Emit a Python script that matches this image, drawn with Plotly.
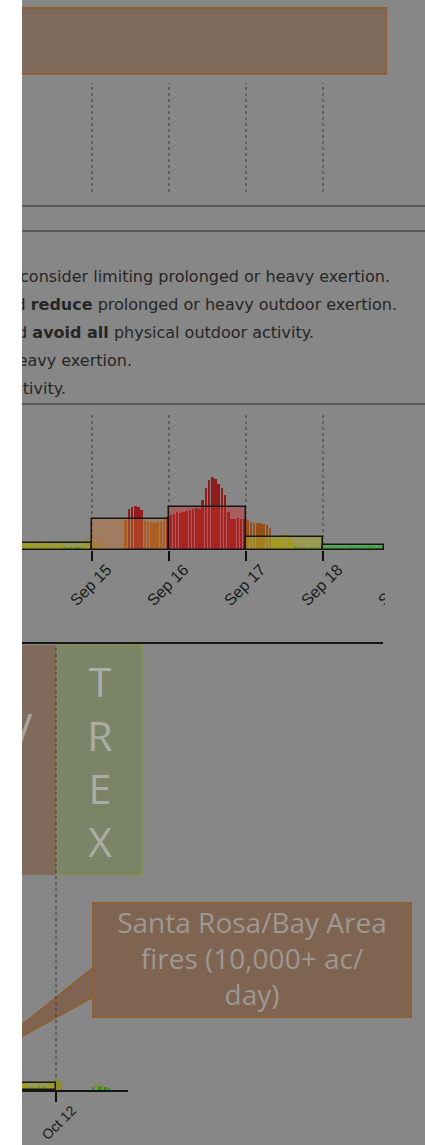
import plotly.graph_objects as go
from datetime import datetime, timedelta

# ---------------- data ----------------
# hourly air-quality index values (relative units)
sep_start = datetime(2017, 9, 14)
sep14_hourly = [7, 6, 7, 8, 7, 6, 7, 8, 7, 7, 6, 7, 8, 7, 6, 4, 3, 4, 3, 4, 3, 8, 12, 15]
sep15_hourly = [8, 9, 7, None, None, None, None, None, None, None, 30, 41, 43, 44, 43, 40,
                29, 28, 28, 27, 28, 28, 29, 33]
sep16_hourly = [35, 36, 38, 37, 38, 39, 40, 41, 42, 41, 50, 62, 70, 73, 71, 66, 62, 55,
                38, 31, 31, 32, 31, 31]
sep17_hourly = [30, 28, 27, 27, 27, 26, 25, 22, 12, 10, 13, 16, 17, 14, 8, 4, 3, 4, 3, 2, 3, 4, 3, 3]
sep18_hourly = [3, 3, 4, 3, 3, 2, 3, 3, 4, 3, 3, 4, 4, 3, 4, 4, 3, 4, 3]
sep_days = ["2017-09-14", "2017-09-15", "2017-09-16", "2017-09-17", "2017-09-18"]
sep_daily = [7, 31, 43, 13, 5]
sep_daily_cat = ["Moderate", "USG", "Unhealthy", "Moderate", "Good"]
sep_ticks = ["2017-09-14", "2017-09-15", "2017-09-16", "2017-09-17", "2017-09-18", "2017-09-19"]
sep_ticktext = ["Sep 14", "Sep 15", "Sep 16", "Sep 17", "Sep 18", "Sep 19"]

oct_start = datetime(2017, 10, 11)
oct11_hourly = [6, 7, 6, 6, 7, 6, 6, 7, 6, 6, 7, 6, 6, 6, 7, 3, 4, 3, 4, 3, 4, 7, 9, 11]
oct12_hourly = [10, 8, None, None, None, None, None, None, None, None, None, 3, 6, 4, 5, 3, 2]
oct_days = ["2017-10-11"]
oct_daily = [7]
oct_daily_cat = ["Moderate"]
oct_ticks = ["2017-10-11", "2017-10-12", "2017-10-13"]
oct_ticktext = ["Oct 11", "Oct 12", "Oct 13"]

guidance_lines = [
    "consider limiting prolonged or heavy exertion.",
    "d <b>reduce</b> prolonged or heavy outdoor exertion.",
    "d <b>avoid all</b> physical outdoor activity.",
    "eavy exertion.",
    "tivity.",
]
campaign_letters = ["T", "R", "E", "X"]
left_letter = "V"
callout_text = "Santa Rosa/Bay Area<br>fires (10,000+ ac/<br>day)"

# category thresholds for hourly colouring (same relative units as above)
hourly_thresholds = [(30.5, "Unhealthy"), (20, "USG"), (5, "Moderate"), (-1, "Good")]

# ---------------- styling ----------------
W, H = 425, 1145
BG = "#878787"
BAR_COL = {"Good": "#2f8c2f", "Moderate": "#8e8c1e", "USG": "#935018", "Unhealthy": "#911b1b"}
BOX_COL = {"Good": "rgba(60,185,60,0.55)", "Moderate": "rgba(175,172,35,0.5)",
           "USG": "rgba(195,110,50,0.45)", "Unhealthy": "rgba(205,45,45,0.45)"}
PX_PER_DAY = 77.0


def cat_of(v):
    for thr, name in hourly_thresholds:
        if v >= thr:
            return name
    return "Good"


def px(p):
    return p / W


def py(p):
    return 1 - p / H


def t_at(px_pos, ref_px, ref_day):
    return ref_day + timedelta(days=(px_pos - ref_px) / PX_PER_DAY)


def fmt(t):
    return t.strftime("%Y-%m-%d %H:%M:%S")


def hourly_trace(start, values, xa, ya):
    xs, ys, cs = [], [], []
    for i, v in enumerate(values):
        xs.append(start + timedelta(hours=i, minutes=30))
        ys.append(v)
        cs.append(BAR_COL[cat_of(v)] if v is not None else BAR_COL["Good"])
    return go.Bar(x=xs, y=ys, width=[0.8 * 3600e3] * len(xs), marker=dict(color=cs, line=dict(width=0)),
                  xaxis=xa, yaxis=ya, showlegend=False, hoverinfo="skip")


def daily_trace(days, values, cats, data_end, xa, ya):
    xs, ws = [], []
    for d in days:
        s = datetime.fromisoformat(d)
        e = min(s + timedelta(days=1), data_end)
        xs.append(s + (e - s) / 2)
        ws.append((e - s).total_seconds() * 1000)
    cols = [BOX_COL[c] for c in cats]
    return go.Bar(x=xs, y=values, width=ws,
                  marker=dict(color=cols, line=dict(color="#151515", width=1.5)),
                  xaxis=xa, yaxis=ya, showlegend=False, hoverinfo="skip")


fig = go.Figure()

sep_hourly = sep14_hourly + sep15_hourly + sep16_hourly + sep17_hourly + sep18_hourly
sep_end = sep_start + timedelta(hours=len(sep_hourly))
fig.add_trace(hourly_trace(sep_start, sep_hourly, "x", "y"))
fig.add_trace(daily_trace(sep_days, sep_daily, sep_daily_cat, sep_end, "x", "y"))

oct_hourly = oct11_hourly + oct12_hourly
oct_end = oct_start + timedelta(hours=len(oct_hourly))
fig.add_trace(hourly_trace(oct_start, oct_hourly, "x2", "y2"))
fig.add_trace(daily_trace(oct_days, oct_daily, oct_daily_cat, oct_end, "x2", "y2"))

# ---- slide texts (pixel overlay axis) ----
guid_right = [390, 397, 314, 132, 66]
guid_y = [278, 306, 334, 362, 390]
for txt, xr, yc in zip(guidance_lines, guid_right, guid_y):
    fig.add_trace(go.Scatter(x=[xr], y=[yc], mode="text", text=[txt], textposition="middle left",
                             textfont=dict(family="DejaVu Sans", size=16, color="#262626"),
                             xaxis="x3", yaxis="y3", showlegend=False, hoverinfo="skip"))

fig.add_trace(go.Scatter(x=[100], y=[767], mode="text", text=["<br>".join(campaign_letters)],
                         textposition="middle center",
                         textfont=dict(family="Open Sans", size=41, color="#aaada5"),
                         xaxis="x3", yaxis="y3", showlegend=False, hoverinfo="skip"))
fig.add_trace(go.Scatter(x=[20], y=[733], mode="text", text=[left_letter], textposition="middle center",
                         textfont=dict(family="Open Sans", size=41, color="#a9a39e"),
                         xaxis="x3", yaxis="y3", showlegend=False, hoverinfo="skip"))
fig.add_trace(go.Scatter(x=[252], y=[962], mode="text", text=[callout_text], textposition="middle center",
                         textfont=dict(family="Open Sans", size=28, color="#9e9893"),
                         xaxis="x3", yaxis="y3", showlegend=False, hoverinfo="skip"))

# ---------------- shapes ----------------
shapes = []
# top orange text box
shapes.append(dict(type="rect", xref="paper", yref="paper", x0=px(-10), x1=px(386), y0=py(74), y1=py(8),
                   fillcolor="#7f6b5c", line=dict(color="#8c5e36", width=2), layer="below"))
# separator lines
for yy in [206, 231, 404]:
    shapes.append(dict(type="line", xref="paper", yref="paper", x0=0, x1=1, y0=py(yy), y1=py(yy),
                       line=dict(color="#5a5a5a", width=2), layer="below"))
# dotted day lines (upper panel and chart)
for d in sep_ticks[1:5]:
    shapes.append(dict(type="line", xref="x", yref="paper", x0=d, x1=d, y0=py(192), y1=py(83),
                       line=dict(color="#4a4a4a", width=1.2, dash="dot"), layer="below"))
    shapes.append(dict(type="line", xref="x", yref="paper", x0=d, x1=d, y0=py(550), y1=py(415),
                       line=dict(color="#4a4a4a", width=1.2, dash="dot"), layer="below"))
# black line above lower section
shapes.append(dict(type="line", xref="paper", yref="paper", x0=0, x1=px(383), y0=py(643), y1=py(643),
                   line=dict(color="#161616", width=2), layer="below"))
# campaign boxes
shapes.append(dict(type="rect", xref="paper", yref="paper", x0=px(-10), x1=px(57), y0=py(875), y1=py(645),
                   fillcolor="#806a5b", line=dict(width=0), layer="below"))
shapes.append(dict(type="rect", xref="paper", yref="paper", x0=px(57), x1=px(142), y0=py(875), y1=py(645),
                   fillcolor="#7b8466", line=dict(color="#84904f", width=1.5), layer="below"))
# callout wedge + box
wedge = "M {},{} L {},{} L {},{} Z".format(px(93), py(968), px(-23), py(1061), px(93), py(997))
shapes.append(dict(type="path", xref="paper", yref="paper", path=wedge, fillcolor="#7f6452",
                   line=dict(color="#8f5f35", width=2), layer="below"))
shapes.append(dict(type="rect", xref="paper", yref="paper", x0=px(93), x1=px(411), y0=py(1017), y1=py(903),
                   fillcolor="#7f6452", line=dict(color="#8f5f35", width=2), layer="below"))
# dotted Oct 12 line
shapes.append(dict(type="line", xref="x2", yref="paper", x0="2017-10-12", x1="2017-10-12",
                   y0=py(1083), y1=py(645), line=dict(color="#454545", width=1.2, dash="dot"), layer="below"))
# crop of the embedded chart on the right
shapes.append(dict(type="rect", xref="paper", yref="paper", x0=px(385), x1=1, y0=py(626), y1=py(549),
                   fillcolor=BG, line=dict(width=0), layer="above"))
# white strip on the left
shapes.append(dict(type="rect", xref="paper", yref="paper", x0=0, x1=px(22), y0=0, y1=1,
                   fillcolor="#ffffff", line=dict(width=0), layer="above"))

sep15 = datetime(2017, 9, 15)
oct12 = datetime(2017, 10, 12)

fig.update_layout(
    width=W, height=H, autosize=False,
    margin=dict(l=0, r=0, t=0, b=0, pad=0, autoexpand=False),
    paper_bgcolor=BG, plot_bgcolor="rgba(0,0,0,0)",
    barmode="overlay", bargap=0, showlegend=False,
    shapes=shapes,
    xaxis=dict(type="date", domain=[0, 1], anchor="y", automargin=False,
               range=[fmt(t_at(0, 92, sep15)), fmt(t_at(W, 92, sep15))],
               tickmode="array", tickvals=sep_ticks, ticktext=sep_ticktext, tickangle=-45,
               ticks="outside", ticklen=10, tickwidth=2, tickcolor="#111111",
               tickfont=dict(family="Liberation Sans", size=16, color="#1a1a1a"),
               ticklabelshift=15, ticklabelstandoff=-7,
               showgrid=False, zeroline=False, showline=False),
    yaxis=dict(domain=[py(550), py(410)], range=[0, 140], visible=False, anchor="x", automargin=False),
    xaxis2=dict(type="date", domain=[0, px(128)], anchor="y2", automargin=False,
                range=[fmt(t_at(0, 56, oct12)), fmt(t_at(128, 56, oct12))],
                tickmode="array", tickvals=oct_ticks, ticktext=oct_ticktext, tickangle=-45,
                ticks="outside", ticklen=10, tickwidth=2, tickcolor="#111111",
                tickfont=dict(family="Liberation Sans", size=14, color="#1a1a1a"),
                ticklabelshift=16, ticklabelstandoff=-5,
                showgrid=False, zeroline=False, showline=True, linecolor="#151515", linewidth=1.5),
    yaxis2=dict(domain=[py(1090), py(950)], range=[0, 140], visible=False, anchor="x2", automargin=False),
    xaxis3=dict(domain=[0, 1], range=[0, W], visible=False, anchor="y3", automargin=False),
    yaxis3=dict(domain=[0, 1], range=[H, 0], visible=False, anchor="x3", automargin=False),
)

fig.write_html("out.html", config={"displayModeBar": False},
               post_script="document.body.style.margin='0';document.body.style.overflow='hidden';")
